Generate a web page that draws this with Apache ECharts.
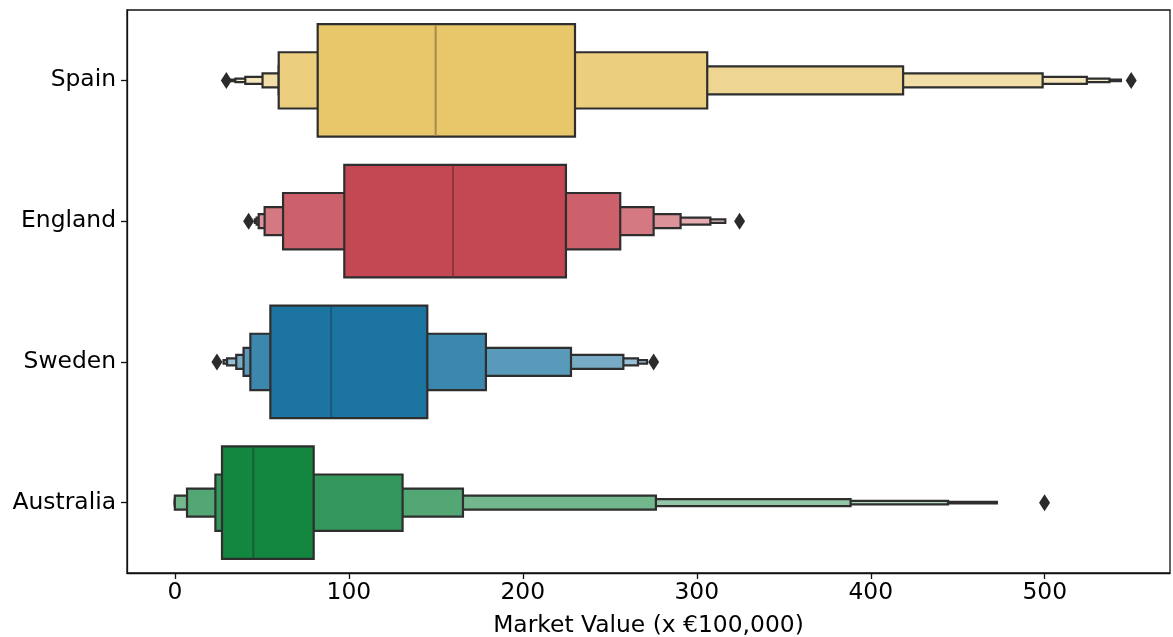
<!DOCTYPE html>
<html>
<head>
<meta charset="utf-8">
<script src="https://cdn.jsdelivr.net/npm/echarts@6/dist/echarts.min.js"></script>
<style>html,body{margin:0;padding:0;background:#fff;}#chart{width:1173px;height:637px;}</style>
</head>
<body>
<div id="chart"></div>
<script>
// ---- data ----
const categories = ['Spain', 'England', 'Sweden', 'Australia'];
const xTicks = [0, 100, 200, 300, 400, 500];
// letter-value box edges, level 1 (IQR) outward
const spainLower     = [82.1, 59.7, 59.7, 50.4, 40.5, 34.8, 32.5];
const spainUpper     = [230.0, 306.0, 418.6, 498.8, 524.2, 537.2, 543.8];
const englandLower   = [97.4, 62.2, 51.6, 48.2, 47.0, 46.0];
const englandUpper   = [224.8, 256.0, 275.2, 290.7, 307.8, 316.4];
const swedenLower    = [54.9, 43.4, 39.5, 35.3, 30.0, 28.0];
const swedenUpper    = [145.1, 178.8, 227.7, 257.8, 266.2, 271.4];
const australiaLower = [27.1, 23.3, 7.0, 0.0, 0.0, 0.0, 0.0];
const australiaUpper = [79.8, 130.9, 165.6, 276.5, 388.4, 444.4, 472.5];
const medians = [149.9, 159.9, 89.8, 45.1];
const spainOutliers = [29.6, 549.7];
const englandOutliers = [42.4, 324.6];
const swedenOutliers = [24.2, 275.2];
const australiaOutliers = [499.9];

// ---- styles ----
const baseColors = [[232,198,106],[196,72,84],[28,116,160],[19,134,64]];
const medianColors = ['#a58c4e', '#8f3540', '#1a5a7c', '#165f35'];
const tintStep = 0.135;
const FONT = 'DejaVu Sans';
const FS = 23.4;

function levelColor(cat, level) {
  const t = Math.min(0.85, tintStep * (level - 1));
  const c = baseColors[cat].map(v => Math.round(v + (255 - v) * t));
  return 'rgb(' + c.join(',') + ')';
}

const lowers = [spainLower, englandLower, swedenLower, australiaLower];
const uppers = [spainUpper, englandUpper, swedenUpper, australiaUpper];
const boxData = [];
lowers.forEach((lo, cat) => {
  for (let k = lo.length; k >= 1; k--) {
    boxData.push([cat, k, lo[k - 1], uppers[cat][k - 1]]);
  }
});
const medianData = medians.map((m, i) => [i, m]);
const outlierData = [];
[spainOutliers, englandOutliers, swedenOutliers, australiaOutliers].forEach((arr, cat) => {
  arr.forEach(v => outlierData.push([v, categories[cat]]));
});

const chart = echarts.init(document.getElementById('chart'), null, {renderer: 'canvas'});
chart.setOption({
  animation: false,
  backgroundColor: '#fff',
  grid: {left: 127, right: 3, top: 10, bottom: 64, show: true, borderColor: '#111', borderWidth: 1.3,
         backgroundColor: 'transparent', containLabel: false, outerBoundsMode: 'none'},
  xAxis: {
    type: 'value', min: -27.5, max: 572,
    name: 'Market Value (x €100,000)', nameLocation: 'middle', nameGap: 41,
    nameTextStyle: {fontFamily: FONT, fontSize: FS, color: '#000'},
    axisLine: {show: true, onZero: false, lineStyle: {color: '#111', width: 1.3}},
    axisTick: {show: true, length: 6, lineStyle: {color: '#111', width: 1.3}, customValues: xTicks},
    axisLabel: {fontFamily: FONT, fontSize: FS, color: '#000', margin: 8, customValues: xTicks},
    splitLine: {show: false}
  },
  yAxis: {
    type: 'category', data: categories, inverse: true,
    axisLine: {show: true, onZero: false, lineStyle: {color: '#111', width: 1.3}},
    axisTick: {show: true, alignWithLabel: true, length: 6, lineStyle: {color: '#111', width: 1.3}},
    axisLabel: {fontFamily: FONT, fontSize: FS, color: '#000', margin: 11, padding: [5, 0, 0, 0]},
    splitLine: {show: false}
  },
  series: [
    {
      type: 'custom',
      data: boxData,
      encode: {x: [2, 3], y: 0},
      renderItem: function (params, api) {
        const cat = api.value(0), level = api.value(1), lo = api.value(2), hi = api.value(3);
        const p0 = api.coord([lo, cat]);
        const p1 = api.coord([hi, cat]);
        const band = api.size([0, 1])[1];
        const h = band * 0.8 / Math.pow(2, level - 1);
        return {
          type: 'rect',
          shape: {x: p0[0], y: p0[1] - h / 2, width: p1[0] - p0[0], height: h},
          style: {fill: levelColor(cat, level), stroke: '#2e2e2e', lineWidth: 2.2}
        };
      },
      z: 2
    },
    {
      type: 'custom',
      data: medianData,
      encode: {x: 1, y: 0},
      renderItem: function (params, api) {
        const cat = api.value(0), m = api.value(1);
        const p = api.coord([m, cat]);
        const band = api.size([0, 1])[1];
        const h = band * 0.8;
        return {
          type: 'line',
          shape: {x1: p[0], y1: p[1] - h / 2 + 1, x2: p[0], y2: p[1] + h / 2 - 1},
          style: {stroke: medianColors[cat], lineWidth: 2}
        };
      },
      z: 3
    },
    {
      type: 'scatter',
      data: outlierData,
      symbol: 'diamond',
      symbolSize: [11, 17],
      itemStyle: {color: '#2b2b2b', opacity: 1},
      z: 4
    }
  ]
});
</script>
</body>
</html>
